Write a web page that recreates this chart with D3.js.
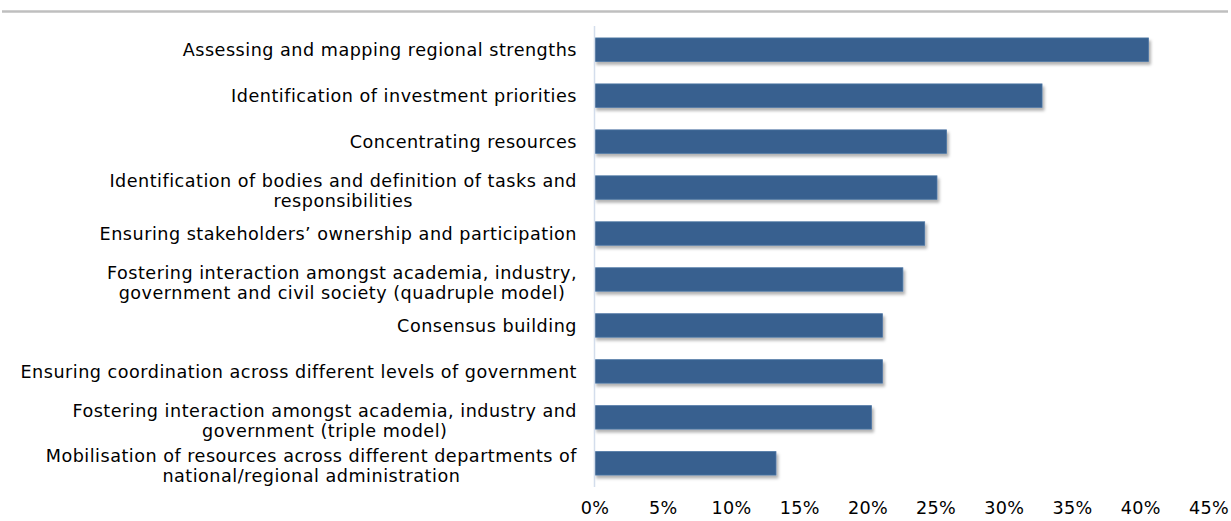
<!DOCTYPE html>
<html>
<head>
<meta charset="utf-8">
<script src="https://cdn.jsdelivr.net/npm/d3@7"></script>
<style>
  html, body { margin: 0; padding: 0; background: #fff; }
  svg { display: block; }
  text { font-family: "DejaVu Sans", Verdana, sans-serif; fill: #000; }
</style>
</head>
<body>
<svg id="chart" width="1231" height="521"></svg>
<script>
// Categories, top to bottom (each entry is a list of label lines)
const categories = [
  ["Assessing and mapping regional strengths"],
  ["Identification of investment priorities"],
  ["Concentrating resources"],
  ["Identification of bodies and definition of tasks and", "responsibilities"],
  ["Ensuring stakeholders\u2019 ownership and participation"],
  ["Fostering interaction amongst academia, industry,", "government and civil society (quadruple model)"],
  ["Consensus building"],
  ["Ensuring coordination across different levels of government"],
  ["Fostering interaction amongst academia, industry and", "government (triple model)"],
  ["Mobilisation of resources across different departments of", "national/regional administration"]
];

// Share of respondents (%)
const values = [40.6, 32.8, 25.8, 25.1, 24.2, 22.6, 21.1, 21.1, 20.3, 13.3];

// X axis tick values (%)
const xTicks = [0, 5, 10, 15, 20, 25, 30, 35, 40, 45];

const svg = d3.select("#chart");

const margin = { left: 594.5, right: 1208.5, top: 26, bottom: 487 };
const fontSize = 17.6;

const x = d3.scaleLinear().domain([0, 45]).range([margin.left, margin.right]);
const y = d3.scaleBand()
  .domain(d3.range(categories.length))
  .range([margin.top, margin.bottom])
  .paddingInner(0.49)
  .paddingOuter(0.26);

// Soft drop shadow under each bar
const defs = svg.append("defs");
const f = defs.append("filter").attr("id", "shadow")
  .attr("x", "-5%").attr("y", "-30%").attr("width", "115%").attr("height", "180%");
f.append("feDropShadow").attr("dx", 2).attr("dy", 3)
  .attr("stdDeviation", 1.6).attr("flood-color", "#000").attr("flood-opacity", 0.3);

// Rule along the top
svg.append("line")
  .attr("x1", 2).attr("x2", 1228).attr("y1", 11.5).attr("y2", 11.5)
  .attr("stroke", "#bfbfbf").attr("stroke-width", 2.5);

// Bars
svg.append("g").selectAll("rect")
  .data(values)
  .join("rect")
  .attr("x", x(0))
  .attr("y", (d, i) => y(i))
  .attr("width", d => x(d) - x(0))
  .attr("height", y.bandwidth())
  .attr("fill", "#38618f")
  .attr("stroke", "#4b74a3")
  .attr("stroke-width", 0.8)
  .attr("filter", "url(#shadow)");

// Category axis line
svg.append("line")
  .attr("x1", x(0)).attr("x2", x(0))
  .attr("y1", margin.top).attr("y2", margin.bottom)
  .attr("stroke", "#d3ddec").attr("stroke-width", 1.5);

// Category labels, right aligned, multi-line ones centred on each other
const lineH = 20;
const labelRight = 577;
const lg = svg.append("g")
  .attr("font-size", fontSize)
  .attr("letter-spacing", 0.5);
categories.forEach((lines, i) => {
  const cy = y(i) + y.bandwidth() / 2;
  if (lines.length === 1) {
    lg.append("text")
      .attr("x", labelRight).attr("y", cy)
      .attr("dy", "0.35em")
      .attr("text-anchor", "end")
      .text(lines[0]);
  } else {
    const t = lg.append("text");
    const first = t.append("tspan")
      .attr("x", labelRight).attr("y", cy - lineH / 2 + 3)
      .attr("dy", "0.35em").attr("text-anchor", "end").text(lines[0]);
    const w = first.node().getComputedTextLength();
    t.append("tspan")
      .attr("x", labelRight - w / 2).attr("y", cy + lineH / 2 + 3)
      .attr("dy", "0.35em").attr("text-anchor", "middle").text(lines[1]);
  }
});

// X axis tick labels
const xAxis = d3.axisBottom(x)
  .tickValues(xTicks)
  .tickFormat(d => d + "%")
  .tickSize(0)
  .tickPadding(0);
const gx = svg.append("g")
  .attr("transform", `translate(0, ${501})`)
  .call(xAxis);
gx.select(".domain").remove();
gx.selectAll("text")
  .attr("font-size", fontSize)
  .attr("letter-spacing", 0.3)
  .attr("font-family", "DejaVu Sans, Verdana, sans-serif")
  .attr("fill", "#000");
</script>
</body>
</html>
